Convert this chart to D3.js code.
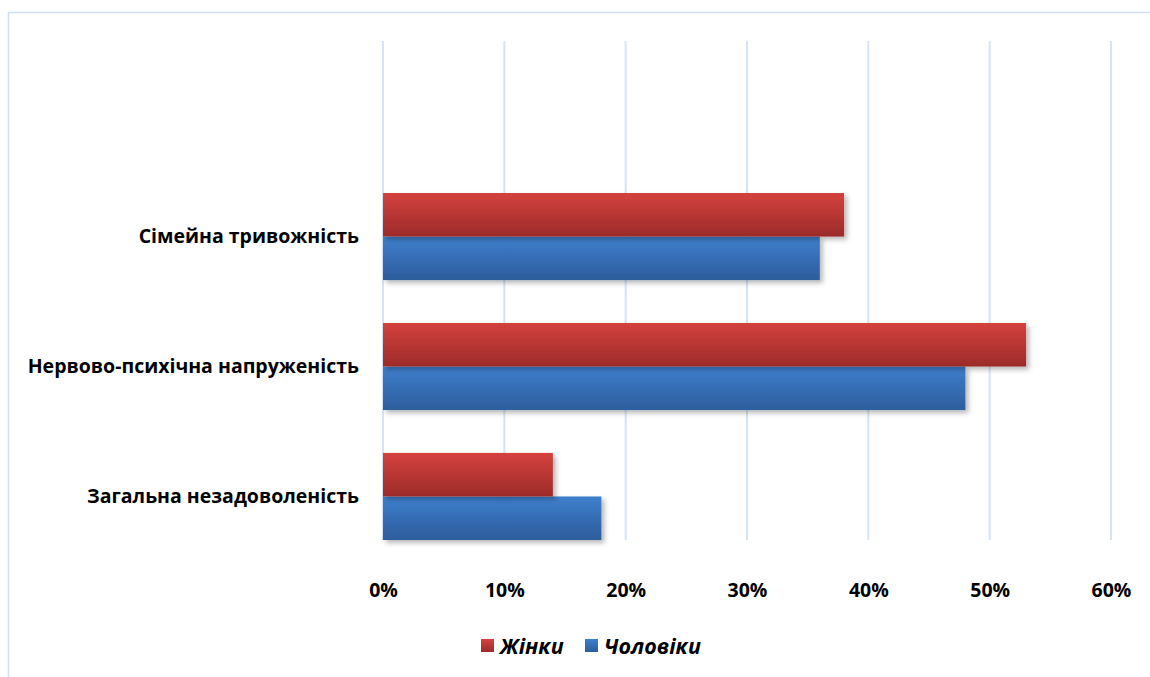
<!DOCTYPE html>
<html>
<head>
<meta charset="utf-8">
<script src="https://cdn.jsdelivr.net/npm/d3@7"></script>
<style>
  html, body { margin: 0; padding: 0; background: #ffffff; }
  svg { display: block; }
</style>
</head>
<body>
<svg id="chart" width="1150" height="677"></svg>
<script>
// Categories listed top to bottom
const categories = ["Сімейна тривожність", "Нервово-психічна напруженість", "Загальна незадоволеність"];
const seriesNames = ["Жінки", "Чоловіки"];
const womenValues = [0.38, 0.53, 0.14];
const menValues = [0.36, 0.48, 0.18];
const tickValues = [0, 0.1, 0.2, 0.3, 0.4, 0.5, 0.6];

const svg = d3.select("#chart");
const fontFamily = "'Open Sans', 'Noto Sans', sans-serif";

// Palette: gradient stops per series (top, bottom)
const palette = {
  "Жінки": ["#d4423e", "#9c2b2a"],
  "Чоловіки": ["#3e7fcd", "#2d5d9c"]
};

const defs = svg.append("defs");
seriesNames.forEach((name, i) => {
  const g = defs.append("linearGradient")
    .attr("id", "grad" + i)
    .attr("x1", 0).attr("y1", 0).attr("x2", 0).attr("y2", 1);
  g.append("stop").attr("offset", "0%").attr("stop-color", palette[name][0]);
  g.append("stop").attr("offset", "100%").attr("stop-color", palette[name][1]);
});
const shadow = defs.append("filter").attr("id", "shadow")
  .attr("x", "-10%").attr("y", "-20%").attr("width", "130%").attr("height", "160%");
shadow.append("feDropShadow")
  .attr("dx", 3).attr("dy", 3).attr("stdDeviation", 2.5)
  .attr("flood-color", "#000").attr("flood-opacity", 0.28);

// Outer chart frame
svg.append("rect")
  .attr("x", 8.5).attr("y", 12.5)
  .attr("width", 1200).attr("height", 700)
  .attr("fill", "none")
  .attr("stroke", "#cfe0f3").attr("stroke-width", 1.5);

// Plot area
const plot = { left: 383, right: 1111, top: 41, bottom: 540 };

const x = d3.scaleLinear().domain([0, 0.6]).range([plot.left, plot.right]);
const y = d3.scaleBand().domain(categories).range([193, plot.bottom]).paddingInner(0.33).paddingOuter(0);
const ySeries = d3.scaleBand().domain(seriesNames).range([0, y.bandwidth()]);

// Vertical gridlines
svg.append("g").selectAll("line")
  .data(tickValues)
  .join("line")
  .attr("x1", d => x(d)).attr("x2", d => x(d))
  .attr("y1", plot.top).attr("y2", plot.bottom)
  .attr("stroke", "#d5e3f4").attr("stroke-width", 2);

// Bars
const rows = categories.map((c, i) => ({
  category: c,
  values: [
    { series: "Жінки", value: womenValues[i] },
    { series: "Чоловіки", value: menValues[i] }
  ]
}));

const groups = svg.append("g").selectAll("g")
  .data(rows)
  .join("g")
  .attr("transform", d => `translate(0,${y(d.category)})`);

// Men bars drawn first so the women bar shadow falls on them
groups.selectAll("rect")
  .data(d => d.values.slice().reverse())
  .join("rect")
  .attr("x", x(0))
  .attr("y", d => ySeries(d.series))
  .attr("width", d => x(d.value) - x(0))
  .attr("height", ySeries.bandwidth())
  .attr("fill", d => `url(#grad${seriesNames.indexOf(d.series)})`)
  .attr("filter", "url(#shadow)");

// X axis tick labels
const xAxis = d3.axisBottom(x)
  .tickValues(tickValues)
  .tickFormat(d3.format(".0%"))
  .tickSize(0)
  .tickPadding(0);
const gx = svg.append("g")
  .attr("transform", `translate(0,${plot.bottom + 45})`)
  .call(xAxis);
gx.select(".domain").remove();
gx.selectAll("text")
  .attr("dy", "0.71em")
  .attr("y", -2)
  .attr("font-family", fontFamily)
  .attr("font-size", 19.5)
  .attr("font-weight", "bold")
  .attr("fill", "#000");

// Y axis category labels
const yAxis = d3.axisLeft(y).tickSize(0).tickPadding(0);
const gy = svg.append("g")
  .attr("transform", `translate(${plot.left - 24},0)`)
  .call(yAxis);
gy.select(".domain").remove();
gy.selectAll("text")
  .attr("font-family", fontFamily)
  .attr("font-size", 19.5)
  .attr("font-weight", "bold")
  .attr("fill", "#000");

// Legend
const legend = svg.append("g").attr("transform", "translate(481,646)");
const legendX = [0, 104];
seriesNames.forEach((name, i) => {
  const item = legend.append("g").attr("transform", `translate(${legendX[i]},0)`);
  item.append("rect")
    .attr("x", 0).attr("y", -7)
    .attr("width", 13).attr("height", 13)
    .attr("fill", `url(#grad${i})`);
  item.append("text")
    .attr("x", 19).attr("y", 0)
    .attr("dy", "0.35em")
    .attr("font-family", fontFamily)
    .attr("font-size", 21.5)
    .attr("font-weight", "bold")
    .attr("font-style", "italic")
    .attr("fill", "#000")
    .text(name);
});
</script>
</body>
</html>
